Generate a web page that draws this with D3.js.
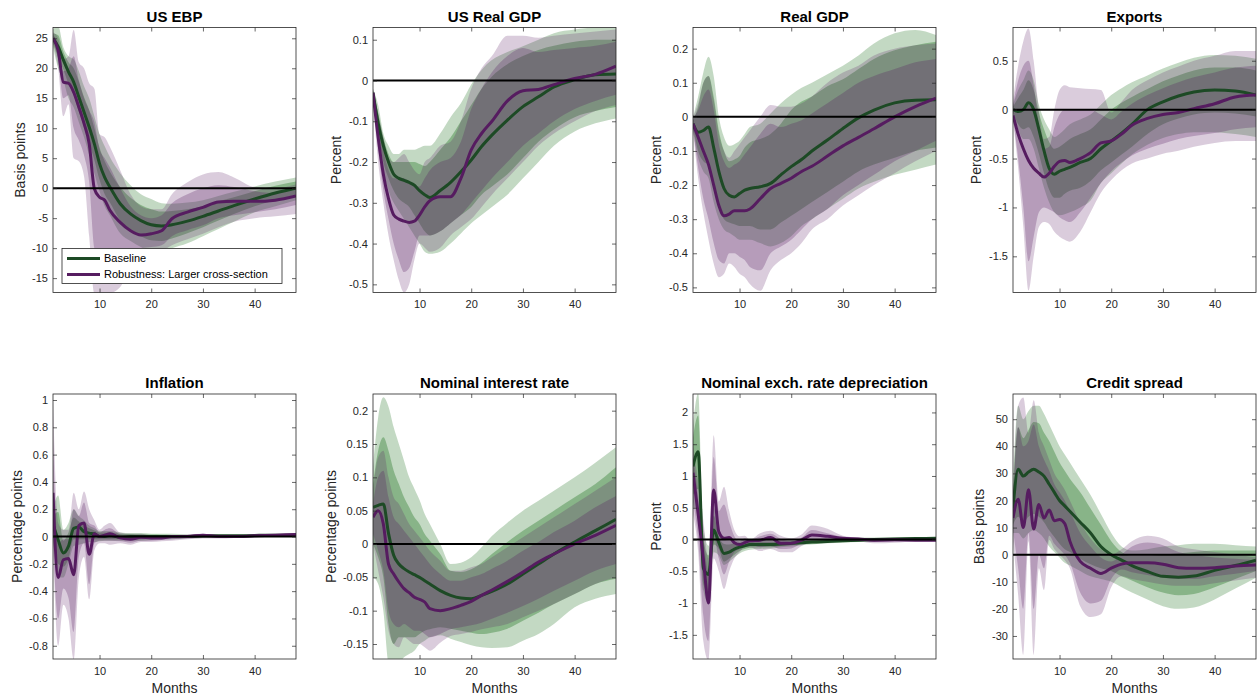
<!DOCTYPE html>
<html>
<head>
<meta charset="utf-8">
<script src="https://cdn.jsdelivr.net/npm/d3@7"></script>
<style>
  body { margin: 0; background: #fff; }
  text { font-family: "Liberation Sans", Arial, sans-serif; }
</style>
</head>
<body>
<div id="chart"></div>
<script>
var months = [1,2,3,4,5,6,7,8,9,10,11,12,14,16,18,20,22,24,27,30,33,36,40,44,48];
var xTicks = [10,20,30,40];

// US EBP
var ebp_b      = [25,23.6,21.4,19.4,17.7,15.2,12.7,10.2,7.4,4.1,1.8,0.2,-2.6,-4.3,-5.4,-6.1,-6.3,-6.1,-5.5,-4.7,-3.8,-2.9,-1.8,-0.8,0];
var ebp_b_hi90 = [26.5,27,23.5,22,21.5,19.5,17,15,12,9,7,5.2,2.5,0.5,-1,-1.8,-2.5,-2.6,-2.4,-2,-1.3,-0.6,0.3,1.1,1.8];
var ebp_b_lo90 = [23.5,20,18,15,13.5,11,8.5,5.5,2.5,-0.5,-3,-4.5,-7.5,-8.8,-9.8,-10.4,-10.5,-10,-9.2,-8,-6.8,-5.6,-4,-3,-2];
var ebp_b_hi68 = [25.8,25.5,22.8,21,20,17.8,15.2,13,10,6.8,4.5,2.8,0.2,-1.6,-2.8,-3.5,-3.9,-3.8,-3.5,-3,-2.2,-1.5,-0.5,0.4,1.1];
var ebp_b_lo68 = [24.2,21.8,19.8,17.4,15.5,12.8,10.2,7.5,4.7,1.4,-1,-2.4,-5.4,-7,-8,-8.7,-8.8,-8.4,-7.5,-6.5,-5.4,-4.3,-3,-2,-1.1];
var ebp_r      = [25,23,17.7,17.5,16,13.5,10.8,7.4,-0.1,-1.5,-2,-3.7,-5.7,-7.1,-7.8,-7.6,-7.1,-5.1,-4,-3.2,-2.3,-2.2,-2.2,-2,-1.3];
var ebp_r_hi90 = [26,25,21.5,22,26.4,21,20,17.5,16.6,9,8.5,6.9,3,-1,-3,-3.5,-3.5,-1,1,2.3,2.7,1.8,0.2,0,0.6];
var ebp_r_lo90 = [24,20,12,14,5,4.5,2,-8,-17.5,-17.5,-17.5,-17.5,-16.5,-13,-11.5,-11,-10.5,-9.5,-8.5,-7.6,-6.5,-5.6,-5,-4.7,-4.3];
var ebp_r_hi68 = [25.5,24,19.5,20,22,18,15,13,11,6.5,5,3.5,0,-3,-4.5,-5,-4.5,-2.5,-1,0,0.5,0.2,-0.5,-0.8,-0.3];
var ebp_r_lo68 = [24.5,21.5,15,15.5,10,8,5.5,1,-10,-12,-12.5,-12.5,-12,-10.5,-10,-9.8,-9.5,-8,-7,-6.2,-5,-4.5,-4,-3.5,-2.8];
var ebp_ticks  = [-15,-10,-5,0,5,10,15,20,25];

// US Real GDP
var usgdp_b      = [-0.03,-0.105,-0.16,-0.2,-0.23,-0.24,-0.245,-0.25,-0.257,-0.27,-0.28,-0.287,-0.27,-0.25,-0.224,-0.195,-0.162,-0.134,-0.097,-0.064,-0.04,-0.016,0.002,0.014,0.016];
var usgdp_b_hi90 = [-0.02,-0.06,-0.13,-0.16,-0.18,-0.18,-0.17,-0.17,-0.17,-0.165,-0.16,-0.16,-0.13,-0.09,-0.056,-0.01,0.026,0.05,0.07,0.084,0.1,0.116,0.125,0.13,0.13];
var usgdp_b_lo90 = [-0.04,-0.15,-0.22,-0.27,-0.3,-0.32,-0.34,-0.36,-0.38,-0.4,-0.42,-0.425,-0.42,-0.4,-0.375,-0.35,-0.33,-0.31,-0.28,-0.24,-0.2,-0.16,-0.125,-0.105,-0.093];
var usgdp_b_hi68 = [-0.025,-0.08,-0.14,-0.18,-0.2,-0.2,-0.2,-0.2,-0.2,-0.205,-0.21,-0.2,-0.17,-0.14,-0.1,-0.06,-0.02,0.01,0.04,0.06,0.075,0.085,0.095,0.1,0.1];
var usgdp_b_lo68 = [-0.035,-0.13,-0.2,-0.24,-0.27,-0.29,-0.3,-0.31,-0.33,-0.35,-0.37,-0.38,-0.37,-0.35,-0.33,-0.31,-0.28,-0.26,-0.23,-0.19,-0.15,-0.12,-0.09,-0.075,-0.065];
var usgdp_r      = [-0.03,-0.14,-0.23,-0.29,-0.33,-0.34,-0.345,-0.348,-0.345,-0.33,-0.31,-0.295,-0.285,-0.285,-0.24,-0.17,-0.13,-0.1,-0.05,-0.025,-0.022,-0.01,0.005,0.015,0.035];
var usgdp_r_hi90 = [-0.02,-0.08,-0.14,-0.19,-0.2,-0.19,-0.18,-0.2,-0.22,-0.23,-0.2,-0.19,-0.16,-0.15,-0.1,-0.02,0.03,0.06,0.11,0.11,0.105,0.11,0.115,0.12,0.125];
var usgdp_r_lo90 = [-0.05,-0.2,-0.3,-0.38,-0.44,-0.49,-0.52,-0.5,-0.44,-0.4,-0.41,-0.42,-0.41,-0.38,-0.36,-0.34,-0.31,-0.28,-0.24,-0.2,-0.16,-0.13,-0.1,-0.075,-0.06];
var usgdp_r_hi68 = [-0.025,-0.1,-0.17,-0.22,-0.24,-0.24,-0.24,-0.25,-0.26,-0.26,-0.24,-0.22,-0.2,-0.19,-0.15,-0.07,-0.02,0.02,0.06,0.08,0.07,0.075,0.08,0.085,0.095];
var usgdp_r_lo68 = [-0.04,-0.17,-0.27,-0.34,-0.4,-0.44,-0.47,-0.46,-0.42,-0.38,-0.38,-0.38,-0.37,-0.35,-0.33,-0.3,-0.27,-0.24,-0.2,-0.16,-0.13,-0.1,-0.07,-0.05,-0.035];
var usgdp_ticks  = [-0.5,-0.4,-0.3,-0.2,-0.1,0,0.1];

// Real GDP
var rgdp_b      = [-0.02,-0.045,-0.04,-0.03,-0.09,-0.16,-0.21,-0.23,-0.235,-0.225,-0.215,-0.21,-0.205,-0.195,-0.17,-0.146,-0.125,-0.1,-0.068,-0.034,-0.003,0.02,0.041,0.049,0.05];
var rgdp_b_hi90 = [0,0.06,0.13,0.176,0.12,0,-0.06,-0.085,-0.08,-0.07,-0.05,-0.03,-0.02,0.01,0.04,0.065,0.085,0.1,0.125,0.15,0.18,0.215,0.245,0.255,0.24];
var rgdp_b_lo90 = [-0.04,-0.12,-0.16,-0.18,-0.25,-0.3,-0.33,-0.34,-0.35,-0.36,-0.36,-0.36,-0.37,-0.38,-0.37,-0.35,-0.32,-0.3,-0.27,-0.24,-0.21,-0.19,-0.17,-0.155,-0.14];
var rgdp_b_hi68 = [-0.01,0.03,0.1,0.12,0.06,-0.04,-0.1,-0.13,-0.125,-0.115,-0.09,-0.075,-0.065,-0.05,-0.02,0.02,0.045,0.06,0.09,0.11,0.14,0.17,0.195,0.21,0.22];
var rgdp_b_lo68 = [-0.03,-0.1,-0.13,-0.14,-0.2,-0.26,-0.3,-0.31,-0.315,-0.32,-0.32,-0.32,-0.33,-0.33,-0.31,-0.29,-0.27,-0.25,-0.22,-0.19,-0.16,-0.14,-0.12,-0.1,-0.09];
var rgdp_r      = [-0.02,-0.06,-0.1,-0.14,-0.2,-0.26,-0.29,-0.285,-0.275,-0.275,-0.275,-0.27,-0.24,-0.21,-0.195,-0.18,-0.16,-0.145,-0.115,-0.085,-0.06,-0.035,0,0.03,0.055];
var rgdp_r_hi90 = [0,0.04,0.1,0.12,0.05,-0.05,-0.1,-0.12,-0.1,-0.08,-0.06,-0.04,0,0.035,0.03,0.03,0.04,0.06,0.1,0.13,0.15,0.18,0.2,0.21,0.215];
var rgdp_r_lo90 = [-0.04,-0.18,-0.28,-0.36,-0.43,-0.47,-0.46,-0.43,-0.44,-0.46,-0.47,-0.49,-0.51,-0.45,-0.42,-0.4,-0.37,-0.33,-0.3,-0.26,-0.23,-0.2,-0.165,-0.13,-0.1];
var rgdp_r_hi68 = [-0.005,0.02,0.06,0.08,0.02,-0.08,-0.13,-0.15,-0.14,-0.13,-0.11,-0.09,-0.05,-0.02,-0.03,-0.02,-0.01,0.01,0.04,0.07,0.1,0.12,0.14,0.16,0.17];
var rgdp_r_lo68 = [-0.035,-0.15,-0.24,-0.3,-0.37,-0.42,-0.43,-0.4,-0.4,-0.41,-0.42,-0.44,-0.45,-0.4,-0.38,-0.36,-0.33,-0.3,-0.27,-0.23,-0.2,-0.17,-0.13,-0.1,-0.07];
var rgdp_ticks  = [-0.5,-0.4,-0.3,-0.2,-0.1,0,0.1,0.2];

// Exports
var exp_b      = [0,-0.02,0,0.07,0,-0.2,-0.42,-0.6,-0.66,-0.63,-0.61,-0.59,-0.54,-0.5,-0.4,-0.32,-0.24,-0.15,0,0.08,0.14,0.18,0.2,0.19,0.15];
var exp_b_hi90 = [0.05,0.2,0.3,0.4,0.3,0.05,-0.1,-0.2,-0.28,-0.25,-0.2,-0.15,-0.1,-0.05,0.05,0.15,0.22,0.28,0.35,0.42,0.48,0.53,0.56,0.55,0.52];
var exp_b_lo90 = [-0.05,-0.2,-0.3,-0.3,-0.4,-0.6,-0.8,-0.95,-1.05,-1.08,-1.07,-1.05,-1,-0.93,-0.75,-0.65,-0.55,-0.46,-0.36,-0.29,-0.25,-0.23,-0.23,-0.25,-0.28];
var exp_b_hi68 = [0.03,0.12,0.2,0.3,0.2,-0.03,-0.2,-0.33,-0.4,-0.38,-0.34,-0.3,-0.25,-0.2,-0.1,0,0.07,0.13,0.21,0.29,0.35,0.4,0.43,0.43,0.4];
var exp_b_lo68 = [-0.03,-0.15,-0.2,-0.18,-0.28,-0.45,-0.65,-0.82,-0.9,-0.9,-0.86,-0.83,-0.8,-0.73,-0.62,-0.54,-0.46,-0.38,-0.25,-0.15,-0.09,-0.05,-0.03,-0.04,-0.07];
var exp_r      = [-0.06,-0.25,-0.4,-0.52,-0.6,-0.65,-0.69,-0.65,-0.58,-0.53,-0.52,-0.54,-0.5,-0.44,-0.34,-0.32,-0.25,-0.16,-0.09,-0.05,-0.03,0.01,0.06,0.13,0.15];
var exp_r_hi90 = [0.1,0.45,0.7,0.83,0.5,0,-0.3,-0.28,0,0.2,0.25,0.23,0.22,0.21,0.2,-0.03,0.08,0.2,0.3,0.38,0.44,0.5,0.55,0.6,0.6];
var exp_r_lo90 = [-0.1,-0.6,-1.2,-1.85,-1.5,-1.2,-1.15,-1.17,-1.25,-1.3,-1.33,-1.35,-1.25,-1.05,-0.85,-0.72,-0.62,-0.55,-0.5,-0.45,-0.42,-0.38,-0.34,-0.32,-0.32];
var exp_r_hi68 = [0.05,0.3,0.45,0.5,0.25,-0.15,-0.4,-0.38,-0.18,-0.05,0,0,0,0,-0.05,-0.1,-0.02,0.06,0.15,0.22,0.28,0.33,0.38,0.43,0.45];
var exp_r_lo68 = [-0.08,-0.5,-1,-1.55,-1.3,-1.05,-1,-1.02,-1.05,-1.1,-1.13,-1.15,-1.05,-0.9,-0.75,-0.63,-0.54,-0.47,-0.4,-0.35,-0.3,-0.27,-0.24,-0.2,-0.18];
var exp_ticks  = [-1.5,-1,-0.5,0,0.5];

// Inflation
var inf_b      = [0.09,-0.025,-0.12,-0.07,0.06,0.07,0.035,0.025,0.02,0,0,0.01,-0.005,0,0,0,0,0,0,0.005,0.005,0.005,0.008,0.01,0.01];
var inf_b_hi90 = [0.2,0.3,0.05,0.1,0.2,0.15,0.12,0.08,0.06,0.04,0.04,0.04,0.03,0.025,0.025,0.02,0.02,0.02,0.015,0.015,0.012,0.012,0.015,0.018,0.02];
var inf_b_lo90 = [0,-0.3,-0.3,-0.2,-0.07,-0.06,-0.05,-0.04,-0.04,-0.035,-0.03,-0.03,-0.03,-0.03,-0.03,-0.025,-0.02,-0.02,-0.015,-0.01,-0.008,-0.005,0,0,0];
var inf_b_hi68 = [0.15,0.18,-0.03,0.03,0.14,0.11,0.08,0.06,0.045,0.03,0.03,0.03,0.02,0.018,0.016,0.014,0.013,0.012,0.01,0.01,0.009,0.009,0.011,0.014,0.016];
var inf_b_lo68 = [0.04,-0.2,-0.22,-0.16,-0.02,-0.02,-0.02,-0.02,-0.02,-0.02,-0.02,-0.02,-0.02,-0.02,-0.02,-0.016,-0.013,-0.012,-0.01,-0.006,-0.004,-0.002,0.002,0.004,0.005];
var inf_r      = [0.32,-0.3,-0.17,-0.16,-0.28,0.08,0.1,-0.13,0.02,0,0.01,0.02,-0.01,-0.02,-0.005,-0.01,-0.01,0,0,0.01,0,0,0.005,0.01,0.015];
var inf_r_hi90 = [1,0.1,0.05,0.05,0.32,0.2,0.33,0.2,0.12,0.05,0.08,0.1,0.03,0.02,0.02,0.01,0.01,0.01,0.015,0.02,0.01,0.01,0.01,0.015,0.02];
var inf_r_lo90 = [-0.05,-0.8,-0.5,-0.6,-0.9,-0.3,-0.15,-0.46,-0.1,-0.05,-0.05,-0.06,-0.05,-0.06,-0.04,-0.04,-0.035,-0.03,-0.02,-0.015,-0.015,-0.01,-0.005,0,0];
var inf_r_hi68 = [0.7,-0.05,-0.02,-0.02,0.2,0.15,0.25,0.1,0.08,0.03,0.05,0.06,0.015,0.005,0.01,0,0,0.005,0.01,0.015,0.005,0.005,0.008,0.012,0.018];
var inf_r_lo68 = [-0.02,-0.6,-0.38,-0.45,-0.7,-0.15,-0.05,-0.35,-0.05,-0.03,-0.03,-0.03,-0.035,-0.045,-0.03,-0.03,-0.025,-0.02,-0.012,-0.008,-0.01,-0.006,-0.002,0.002,0.004];
var inf_ticks  = [-0.8,-0.6,-0.4,-0.2,0,0.2,0.4,0.6,0.8,1];

// Nominal interest rate
var nir_b      = [0.055,0.058,0.06,0.016,-0.017,-0.03,-0.037,-0.042,-0.046,-0.05,-0.055,-0.06,-0.07,-0.077,-0.081,-0.082,-0.077,-0.071,-0.06,-0.045,-0.03,-0.015,0.003,0.02,0.037];
var nir_b_hi90 = [0.116,0.19,0.22,0.206,0.175,0.15,0.125,0.1,0.083,0.066,0.045,0.03,0,-0.03,-0.028,-0.02,-0.005,0.012,0.032,0.05,0.065,0.08,0.1,0.122,0.145];
var nir_b_lo90 = [-0.05,-0.06,-0.1,-0.18,-0.19,-0.18,-0.17,-0.165,-0.16,-0.15,-0.145,-0.14,-0.137,-0.142,-0.147,-0.152,-0.155,-0.156,-0.155,-0.145,-0.135,-0.12,-0.095,-0.082,-0.075];
var nir_b_hi68 = [0.09,0.14,0.16,0.14,0.11,0.09,0.07,0.055,0.04,0.03,0.015,0.005,-0.015,-0.04,-0.042,-0.038,-0.028,-0.015,0.003,0.02,0.035,0.05,0.07,0.09,0.115];
var nir_b_lo68 = [0,-0.02,-0.05,-0.12,-0.15,-0.14,-0.14,-0.14,-0.14,-0.135,-0.13,-0.128,-0.125,-0.127,-0.13,-0.133,-0.135,-0.133,-0.127,-0.115,-0.103,-0.09,-0.075,-0.06,-0.052];
var nir_r      = [0.04,0.05,0.03,-0.03,-0.045,-0.057,-0.067,-0.073,-0.08,-0.083,-0.087,-0.097,-0.1,-0.097,-0.092,-0.086,-0.077,-0.069,-0.056,-0.042,-0.027,-0.015,0,0.013,0.028];
var nir_r_hi90 = [0.08,0.13,0.14,0.1,0.07,0.06,0.045,0.03,0.02,0.01,0,-0.01,-0.025,-0.04,-0.04,-0.035,-0.03,-0.02,-0.005,0.01,0.025,0.04,0.06,0.08,0.1];
var nir_r_lo90 = [0,-0.04,-0.08,-0.13,-0.15,-0.155,-0.14,-0.145,-0.15,-0.15,-0.155,-0.16,-0.148,-0.138,-0.135,-0.132,-0.128,-0.125,-0.12,-0.11,-0.1,-0.09,-0.075,-0.06,-0.05];
var nir_r_hi68 = [0.06,0.1,0.11,0.07,0.04,0.03,0.02,0.01,0,-0.01,-0.02,-0.03,-0.045,-0.055,-0.055,-0.05,-0.045,-0.037,-0.025,-0.01,0.003,0.018,0.035,0.055,0.072];
var nir_r_lo68 = [0.015,-0.01,-0.04,-0.1,-0.12,-0.125,-0.12,-0.125,-0.13,-0.13,-0.135,-0.14,-0.135,-0.128,-0.125,-0.122,-0.118,-0.112,-0.103,-0.093,-0.082,-0.07,-0.055,-0.04,-0.03];
var nir_ticks  = [-0.15,-0.1,-0.05,0,0.05,0.1,0.15,0.2];

// Nominal exchange rate depreciation
var exr_b      = [1.15,1.38,-0.45,-0.55,0.15,-0.05,-0.22,-0.2,-0.15,-0.12,-0.1,-0.08,-0.08,-0.08,-0.07,-0.06,-0.05,-0.04,-0.03,-0.02,-0.01,0,0.01,0.015,0.02];
var exr_b_hi90 = [1.8,2.3,0.2,-0.1,0.5,0.1,0,-0.02,-0.02,-0.01,0,0,0,-0.01,-0.01,-0.005,0,0.005,0.01,0.02,0.03,0.03,0.035,0.035,0.035];
var exr_b_lo90 = [0.5,0.5,-0.8,-1,-0.2,-0.25,-0.4,-0.35,-0.28,-0.22,-0.18,-0.16,-0.15,-0.14,-0.12,-0.11,-0.09,-0.08,-0.06,-0.05,-0.04,-0.03,-0.015,-0.005,0];
var exr_b_hi68 = [1.6,1.95,0,-0.25,0.38,0.05,-0.07,-0.08,-0.06,-0.05,-0.04,-0.03,-0.03,-0.035,-0.03,-0.025,-0.02,-0.015,-0.005,0.005,0.015,0.02,0.025,0.028,0.03];
var exr_b_lo68 = [0.7,0.8,-0.7,-0.85,-0.08,-0.15,-0.35,-0.3,-0.24,-0.18,-0.15,-0.13,-0.12,-0.12,-0.1,-0.09,-0.075,-0.065,-0.05,-0.04,-0.03,-0.02,-0.008,0,0.005];
var exr_r      = [1.05,0.4,-0.3,-1,0.78,0.12,0.02,0.03,-0.05,-0.08,-0.05,-0.02,-0.01,0.03,-0.06,-0.06,-0.01,0.07,0.05,0.02,0.01,-0.01,-0.005,-0.01,-0.01];
var exr_r_hi90 = [1.5,0.9,0.3,-0.3,1.64,0.6,0.83,0.45,0.15,0.05,0.06,0,0.1,0.14,0.06,0.02,0.08,0.22,0.17,0.06,0.03,0,0.02,0.02,0.015];
var exr_r_lo90 = [0.4,-0.2,-1.6,-1.9,-0.3,-0.5,-0.78,-0.5,-0.3,-0.2,-0.12,-0.12,-0.18,-0.15,-0.2,-0.2,-0.1,-0.05,-0.05,-0.03,-0.03,-0.06,-0.05,-0.03,-0.03];
var exr_r_hi68 = [1.35,0.7,0.05,-0.5,1.3,0.45,0.55,0.28,0.05,-0.03,0.02,-0.01,0.05,0.09,0.01,-0.03,0.03,0.15,0.1,0.04,0.025,0,0.01,0.01,0.01];
var exr_r_lo68 = [0.6,0,-1.2,-1.6,0.05,-0.3,-0.55,-0.35,-0.2,-0.15,-0.1,-0.08,-0.12,-0.1,-0.15,-0.14,-0.06,-0.01,-0.02,-0.01,-0.01,-0.04,-0.03,-0.025,-0.025];
var exr_ticks  = [-1.5,-1,-0.5,0,0.5,1,1.5,2];

// Credit spread
var cs_b      = [17,31.5,29,30.5,31.5,30.5,29,26,23,20,18,16,12,8,3,0,-2,-4,-6.2,-8,-8.3,-7.9,-5.8,-4,-2];
var cs_b_hi90 = [25,55,50,53,55,55,52,48,44,40,37,34,28,22,15,8,3,1.5,2,3,3.5,4,4,3.5,3];
var cs_b_lo90 = [8,8,6,8,9,8,6,3,1,-1,-3,-4,-6,-8,-9,-10,-12,-14,-16.5,-19,-20,-19.5,-16.5,-12.5,-8.5];
var cs_b_hi68 = [22,47,43,46,49,48.5,45,42,38,34,31,28,23,17,11,5,1,-0.5,-0.5,0,0.5,1,1.5,1.5,1.5];
var cs_b_lo68 = [11,14,12,14,15,14,12,9,6.5,4,2,1,-1.5,-3.5,-5,-6,-8,-9.5,-12,-14,-15,-14.5,-12,-9,-6];
var cs_r      = [13.5,20.5,10,24,9.5,18.5,13.5,16.5,12.5,13,11.5,5,-2.5,-5,-6.9,-5,-3.5,-3,-3,-3.5,-4.8,-5,-4.8,-4.2,-3.8];
var cs_r_hi90 = [20,55,58,45,57,45,40,35,30,27,24,20,12,6,2,0,2,5,7,6,3,2,1,0,-1];
var cs_r_lo90 = [5,-15,-37,5,-37,-5,-13,5.4,2,0,-2,-5,-19,-23,-22,-12,-8,-9,-10,-11,-11.5,-11.5,-10.5,-9.5,-8.5];
var cs_r_hi68 = [17,47,40,42,48,40,35,31,26,23,20,16,8,3,-1,-2.5,0,3,4.5,3.5,1,0,-1,-1.5,-2];
var cs_r_lo68 = [9,-5,-20,8,-20,0,-5,7,4,2,0,-3,-14,-18,-17,-9,-5.5,-6.5,-7.5,-8.5,-9,-9,-8,-7,-6];
var cs_ticks  = [-30,-20,-10,0,10,20,30,40,50];

var panels = [
    {title: "US EBP", ylab: "Basis points", ydom: [-17.4, 26.8], yticks: ebp_ticks, labOff: 33,
     b: [ebp_b, ebp_b_lo90, ebp_b_hi90, ebp_b_lo68, ebp_b_hi68], r: [ebp_r, ebp_r_lo90, ebp_r_hi90, ebp_r_lo68, ebp_r_hi68]},
    {title: "US Real GDP", ylab: "Percent", ydom: [-0.52, 0.13], yticks: usgdp_ticks, labOff: 37,
     b: [usgdp_b, usgdp_b_lo90, usgdp_b_hi90, usgdp_b_lo68, usgdp_b_hi68], r: [usgdp_r, usgdp_r_lo90, usgdp_r_hi90, usgdp_r_lo68, usgdp_r_hi68]},
    {title: "Real GDP", ylab: "Percent", ydom: [-0.515, 0.262], yticks: rgdp_ticks, labOff: 37,
     b: [rgdp_b, rgdp_b_lo90, rgdp_b_hi90, rgdp_b_lo68, rgdp_b_hi68], r: [rgdp_r, rgdp_r_lo90, rgdp_r_hi90, rgdp_r_lo68, rgdp_r_hi68]},
    {title: "Exports", ylab: "Percent", ydom: [-1.87, 0.84], yticks: exp_ticks, labOff: 37,
     b: [exp_b, exp_b_lo90, exp_b_hi90, exp_b_lo68, exp_b_hi68], r: [exp_r, exp_r_lo90, exp_r_hi90, exp_r_lo68, exp_r_hi68]},
    {title: "Inflation", ylab: "Percentage points", ydom: [-0.897, 1.044], yticks: inf_ticks, labOff: 36,
     b: [inf_b, inf_b_lo90, inf_b_hi90, inf_b_lo68, inf_b_hi68], r: [inf_r, inf_r_lo90, inf_r_hi90, inf_r_lo68, inf_r_hi68]},
    {title: "Nominal interest rate", ylab: "Percentage points", ydom: [-0.1725, 0.225], yticks: nir_ticks, labOff: 42,
     b: [nir_b, nir_b_lo90, nir_b_hi90, nir_b_lo68, nir_b_hi68], r: [nir_r, nir_r_lo90, nir_r_hi90, nir_r_lo68, nir_r_hi68]},
    {title: "Nominal exch. rate depreciation", ylab: "Percent", ydom: [-1.88, 2.29], yticks: exr_ticks, labOff: 37,
     b: [exr_b, exr_b_lo90, exr_b_hi90, exr_b_lo68, exr_b_hi68], r: [exr_r, exr_r_lo90, exr_r_hi90, exr_r_lo68, exr_r_hi68]},
    {title: "Credit spread", ylab: "Basis points", ydom: [-38.5, 59.3], yticks: cs_ticks, labOff: 34,
     b: [cs_b, cs_b_lo90, cs_b_hi90, cs_b_lo68, cs_b_hi68], r: [cs_r, cs_r_lo90, cs_r_hi90, cs_r_lo68, cs_r_hi68]}
];

var svgWidth = 1257;
var svgHeight = 700;
var width = 243;
var height = 265;
var lefts = [53, 373, 693, 1013];
var tops = [27.5, 394];

var axisColor = "#262626";
var green = {line: "#1d4a25", fill: "rgb(40,120,40)", a90: 0.28, a68: 0.38};
var purple = {line: "#561c60", fill: "rgb(85,25,95)", a90: 0.22, a68: 0.27};

var svg = d3.select("#chart")
    .append("svg")
    .attr("width", svgWidth)
    .attr("height", svgHeight);

var x = d3.scaleLinear().domain([1, 48]).range([0, width]);

panels.forEach(function (p, i) {
    var col = i % 4;
    var row = Math.floor(i / 4);
    var g = svg.append("g")
        .attr("transform", `translate(${lefts[col]}, ${tops[row]})`);

    var y = d3.scaleLinear().domain(p.ydom).range([height, 0]);

    g.append("clipPath")
        .attr("id", "clip" + i)
        .append("rect")
        .attr("width", width)
        .attr("height", height);

    var plot = g.append("g").attr("clip-path", `url(#clip${i})`);

    function band(lo, hi) {
        return d3.area()
            .x((d, k) => x(months[k]))
            .y0((d, k) => y(lo[k]))
            .y1((d, k) => y(hi[k]))
            .curve(d3.curveMonotoneX)(months);
    }
    var line = d3.line()
        .x((d, k) => x(months[k]))
        .y(d => y(d))
        .curve(d3.curveMonotoneX);

    // confidence bands: baseline first, robustness on top
    plot.append("path").attr("d", band(p.b[1], p.b[2]))
        .attr("fill", green.fill).attr("fill-opacity", green.a90);
    plot.append("path").attr("d", band(p.b[3], p.b[4]))
        .attr("fill", green.fill).attr("fill-opacity", green.a68);
    plot.append("path").attr("d", band(p.r[1], p.r[2]))
        .attr("fill", purple.fill).attr("fill-opacity", purple.a90);
    plot.append("path").attr("d", band(p.r[3], p.r[4]))
        .attr("fill", purple.fill).attr("fill-opacity", purple.a68);

    plot.append("path").attr("d", line(p.b[0]))
        .attr("fill", "none").attr("stroke", green.line).attr("stroke-width", 3);
    plot.append("path").attr("d", line(p.r[0]))
        .attr("fill", "none").attr("stroke", purple.line).attr("stroke-width", 3);

    // zero line
    plot.append("line")
        .attr("x1", x(1)).attr("x2", x(48))
        .attr("y1", y(0)).attr("y2", y(0))
        .attr("stroke", "#000").attr("stroke-width", 2);

    // axes with inward ticks on all four sides
    var fmt = d => String(d);
    var leftAxis = g.append("g")
        .call(d3.axisLeft(y).tickValues(p.yticks).tickSize(-4).tickPadding(5).tickFormat(fmt));
    var rightAxis = g.append("g")
        .attr("transform", `translate(${width}, 0)`)
        .call(d3.axisRight(y).tickValues(p.yticks).tickSize(-4).tickFormat(""));
    var bottomAxis = g.append("g")
        .attr("transform", `translate(0, ${height})`)
        .call(d3.axisBottom(x).tickValues(xTicks).tickSize(-4).tickPadding(8).tickFormat(fmt));
    var topAxis = g.append("g")
        .call(d3.axisTop(x).tickValues(xTicks).tickSize(-4).tickFormat(""));

    [leftAxis, rightAxis, bottomAxis, topAxis].forEach(function (a) {
        a.select(".domain").remove();
        a.selectAll("line").attr("stroke", axisColor).attr("stroke-width", 0.7);
        a.selectAll("text")
            .attr("font-family", "Liberation Sans, Arial, sans-serif")
            .attr("font-size", 11)
            .attr("fill", axisColor);
    });

    g.append("rect")
        .attr("width", width)
        .attr("height", height)
        .attr("fill", "none")
        .attr("stroke", axisColor)
        .attr("stroke-width", 0.8);

    g.append("text")
        .attr("x", width / 2)
        .attr("y", -6)
        .attr("text-anchor", "middle")
        .attr("font-size", 15)
        .attr("font-weight", "bold")
        .attr("fill", "#000")
        .text(p.title);

    g.append("text")
        .attr("transform", `translate(${-p.labOff}, ${height / 2}) rotate(-90)`)
        .attr("text-anchor", "middle")
        .attr("dy", "0.35em")
        .attr("font-size", 14)
        .attr("fill", axisColor)
        .text(p.ylab);

    if (row === 1) {
        g.append("text")
            .attr("x", width / 2)
            .attr("y", height + 34)
            .attr("text-anchor", "middle")
            .attr("font-size", 14)
            .attr("fill", axisColor)
            .text("Months");
    }

    // legend sits in the first panel
    if (i === 0) {
        var legend = g.append("g").attr("transform", "translate(9, 221)");
        legend.append("rect")
            .attr("width", 220).attr("height", 35)
            .attr("fill", "#fff")
            .attr("stroke", axisColor).attr("stroke-width", 0.8);
        var entries = [
            {label: "Baseline", color: green.line},
            {label: "Robustness: Larger cross-section", color: purple.line}
        ];
        entries.forEach(function (e, k) {
            var ly = 10 + k * 16;
            legend.append("line")
                .attr("x1", 5).attr("x2", 38)
                .attr("y1", ly).attr("y2", ly)
                .attr("stroke", e.color).attr("stroke-width", 3);
            legend.append("text")
                .attr("x", 42).attr("y", ly)
                .attr("dy", "0.35em")
                .attr("font-size", 11)
                .attr("fill", "#000")
                .text(e.label);
        });
    }
});
</script>
</body>
</html>
